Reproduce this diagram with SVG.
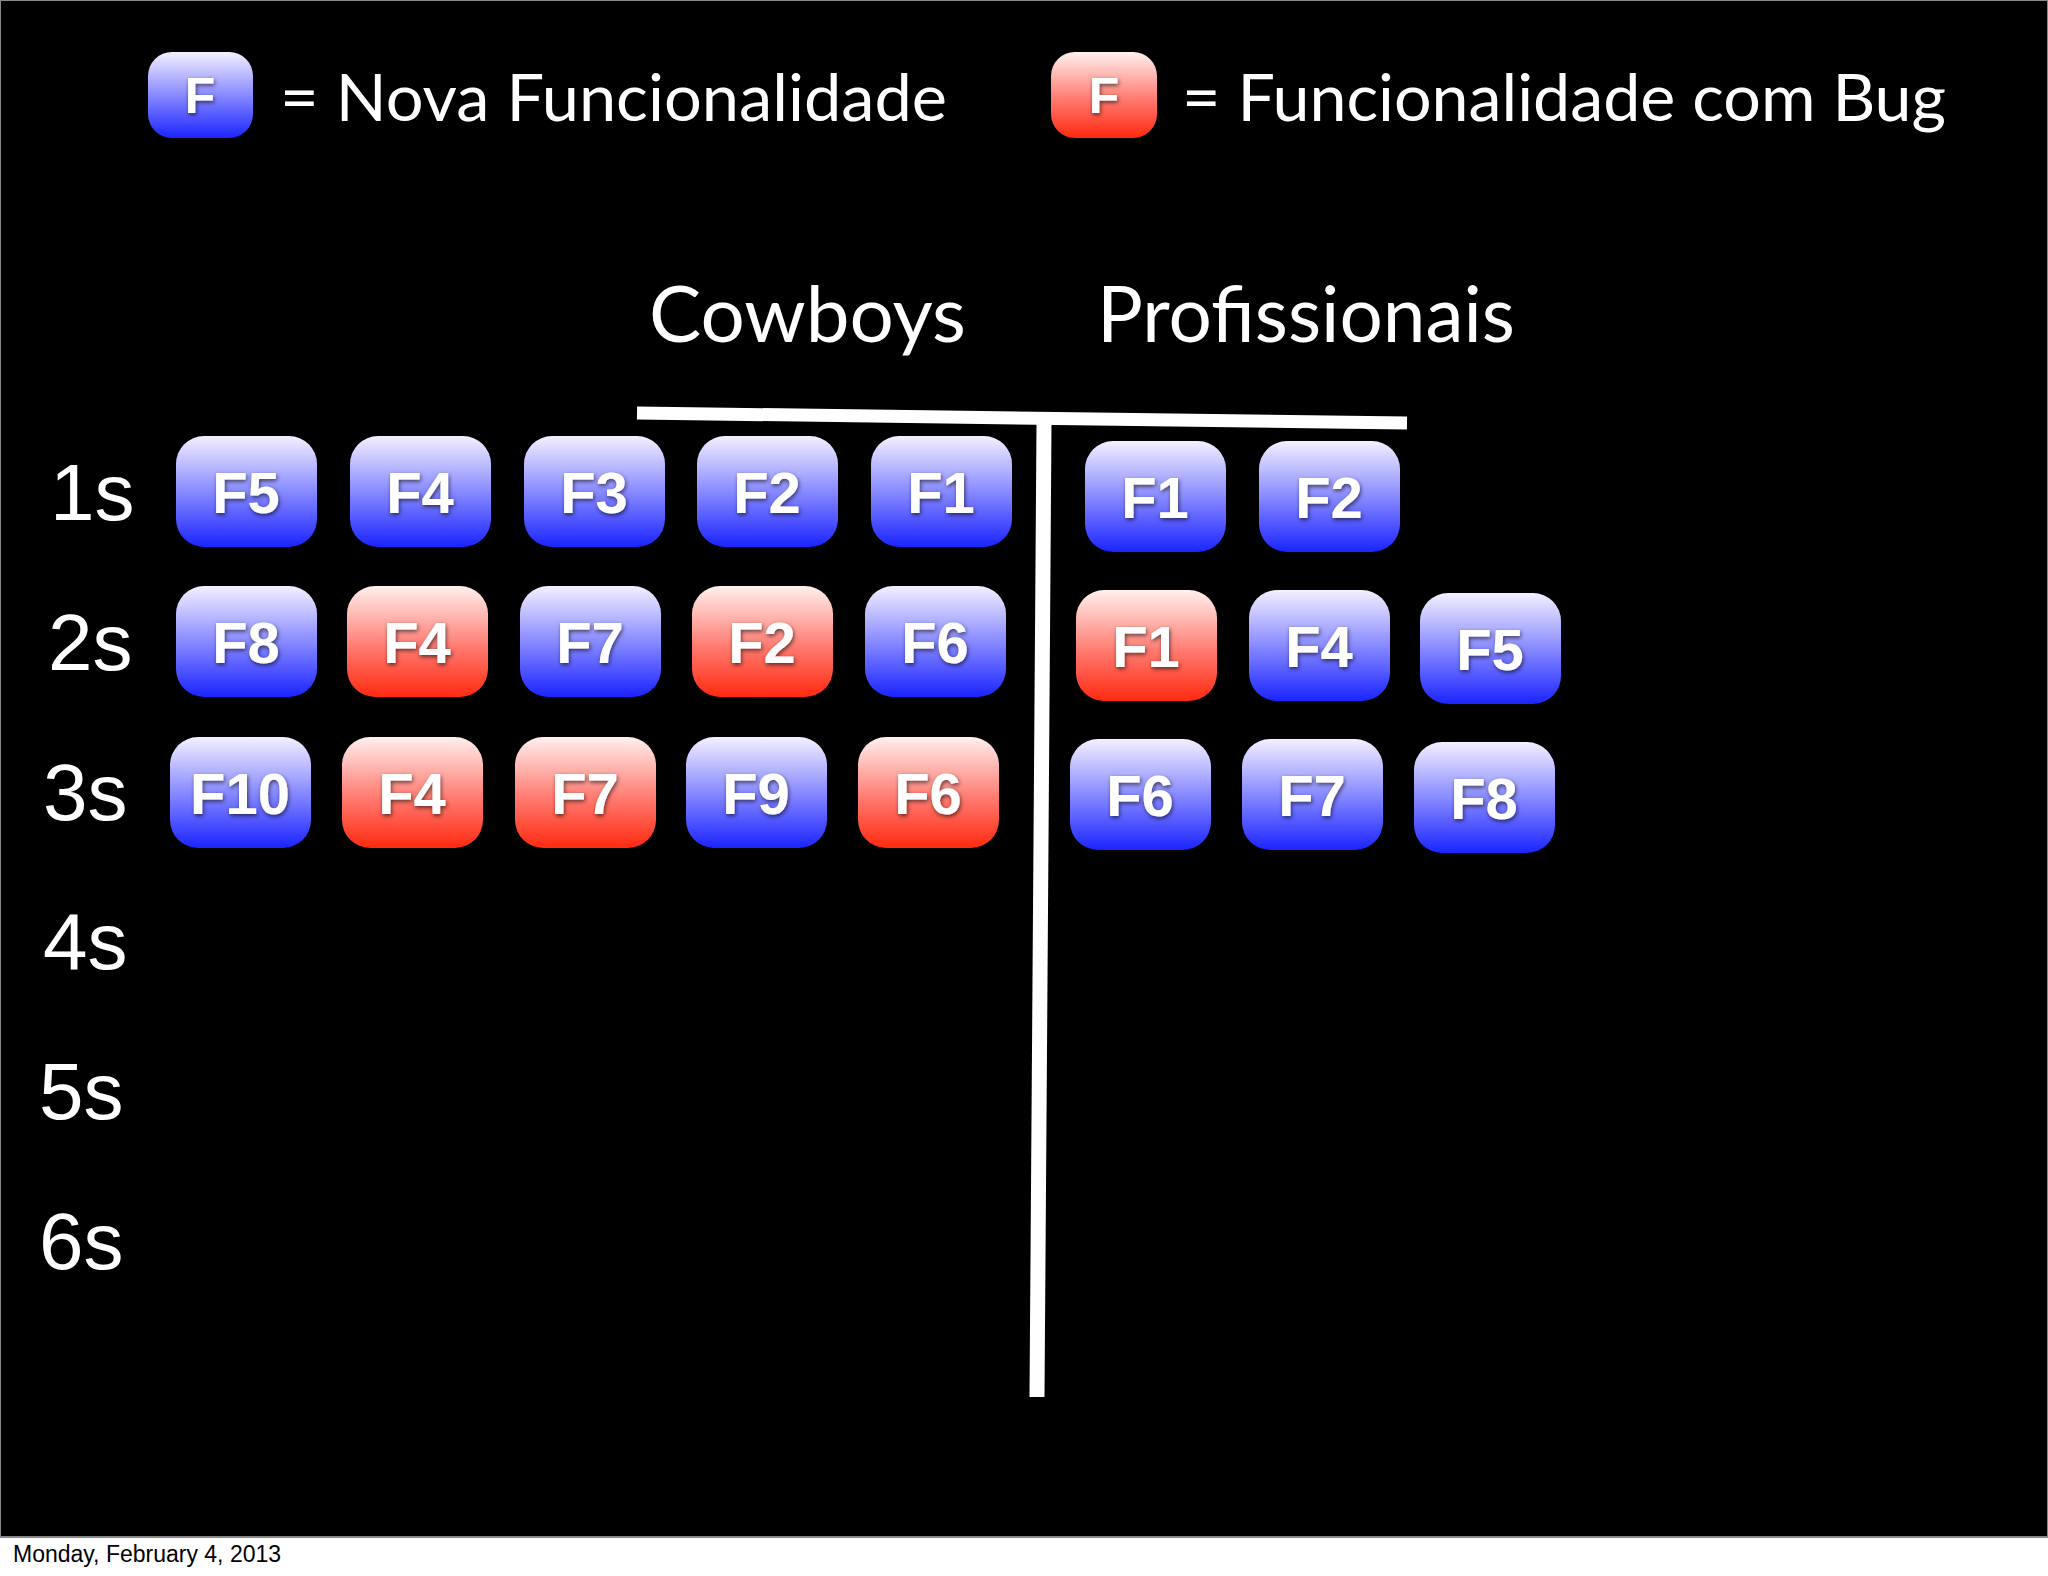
<svg xmlns="http://www.w3.org/2000/svg" width="2048" height="1576" viewBox="0 0 2048 1576">
<defs>
<linearGradient id="gb" x1="0" y1="0" x2="0" y2="1"><stop offset="0" stop-color="#f4f0ff"/><stop offset="0.55" stop-color="#7d80ff"/><stop offset="1" stop-color="#1b24ff"/></linearGradient>
<linearGradient id="gr" x1="0" y1="0" x2="0" y2="1"><stop offset="0" stop-color="#fff0ee"/><stop offset="0.55" stop-color="#ff7a70"/><stop offset="1" stop-color="#ff2a10"/></linearGradient>
<filter id="sh" x="-20%" y="-20%" width="140%" height="140%"><feDropShadow dx="1" dy="2" stdDeviation="2" flood-color="#000" flood-opacity="0.6"/></filter>
</defs>
<style>
.b{fill:url(#gb)}.r{fill:url(#gr)}
.t{font-family:"Liberation Sans",Arial,sans-serif;font-weight:bold;font-size:58px;fill:#fff;text-anchor:middle;filter:url(#sh)}
.row{font-family:"Liberation Sans",Arial,sans-serif;font-size:80px;fill:#fff}
.h{font-family:Lato,"Open Sans",sans-serif;font-size:78px;fill:#fff}
.lg{font-family:Lato,"Open Sans",sans-serif;font-size:66px;fill:#fff}
.lt{font-family:"Liberation Sans",Arial,sans-serif;font-weight:bold;font-size:50px;fill:#fff;text-anchor:middle;filter:url(#sh)}
</style>
<rect width="2048" height="1576" fill="#fff"/>
<rect x="0" y="0" width="2048" height="1537" fill="#000" stroke="#888" stroke-width="2"/>
<text x="13" y="1562" font-family="Liberation Sans,Arial,sans-serif" font-size="23" fill="#000">Monday, February 4, 2013</text>
<g id="legend">
<rect x="148" y="52" width="105" height="86" rx="24" class="b"/><text x="200" y="113" class="lt">F</text>
<text x="280" y="121" class="lg" textLength="667" lengthAdjust="spacingAndGlyphs">= Nova Funcionalidade</text>
<rect x="1051" y="52" width="106" height="86" rx="24" class="r"/><text x="1104" y="113" class="lt">F</text>
<text x="1182" y="121" class="lg" textLength="764" lengthAdjust="spacingAndGlyphs">= Funcionalidade com Bug</text>
</g>
<g id="headers">
<text x="649" y="342" class="h" textLength="317" lengthAdjust="spacingAndGlyphs">Cowboys</text>
<text x="1097" y="342" class="h" textLength="418" lengthAdjust="spacingAndGlyphs">Profissionais</text>
<text x="50" y="520" class="row">1s</text>
<text x="48" y="670" class="row">2s</text>
<text x="43" y="820" class="row">3s</text>
<text x="43" y="969" class="row">4s</text>
<text x="39" y="1119" class="row">5s</text>
<text x="39" y="1269" class="row">6s</text>
</g>
<g id="connectors" stroke="#fff" fill="none">
<line x1="637" y1="413" x2="1407" y2="423" stroke-width="13"/>
<line x1="1044" y1="424" x2="1037" y2="1397" stroke-width="15"/>
</g>
<g id="c1"><rect x="176" y="436" width="141" height="111" rx="28" class="b"/><text x="246" y="513" class="t">F5</text></g>
<g id="c2"><rect x="350" y="436" width="141" height="111" rx="28" class="b"/><text x="420" y="513" class="t">F4</text></g>
<g id="c3"><rect x="524" y="436" width="141" height="111" rx="28" class="b"/><text x="594" y="513" class="t">F3</text></g>
<g id="c4"><rect x="697" y="436" width="141" height="111" rx="28" class="b"/><text x="767" y="513" class="t">F2</text></g>
<g id="c5"><rect x="871" y="436" width="141" height="111" rx="28" class="b"/><text x="941" y="513" class="t">F1</text></g>
<g id="p1"><rect x="1085" y="441" width="141" height="111" rx="28" class="b"/><text x="1155" y="518" class="t">F1</text></g>
<g id="p2"><rect x="1259" y="441" width="141" height="111" rx="28" class="b"/><text x="1329" y="518" class="t">F2</text></g>
<g id="c6"><rect x="176" y="586" width="141" height="111" rx="28" class="b"/><text x="246" y="663" class="t">F8</text></g>
<g id="c7"><rect x="347" y="586" width="141" height="111" rx="28" class="r"/><text x="417" y="663" class="t">F4</text></g>
<g id="c8"><rect x="520" y="586" width="141" height="111" rx="28" class="b"/><text x="590" y="663" class="t">F7</text></g>
<g id="c9"><rect x="692" y="586" width="141" height="111" rx="28" class="r"/><text x="762" y="663" class="t">F2</text></g>
<g id="c10"><rect x="865" y="586" width="141" height="111" rx="28" class="b"/><text x="935" y="663" class="t">F6</text></g>
<g id="p3"><rect x="1076" y="590" width="141" height="111" rx="28" class="r"/><text x="1146" y="667" class="t">F1</text></g>
<g id="p4"><rect x="1249" y="590" width="141" height="111" rx="28" class="b"/><text x="1319" y="667" class="t">F4</text></g>
<g id="p5"><rect x="1420" y="593" width="141" height="111" rx="28" class="b"/><text x="1490" y="670" class="t">F5</text></g>
<g id="c11"><rect x="170" y="737" width="141" height="111" rx="28" class="b"/><text x="240" y="814" class="t">F10</text></g>
<g id="c12"><rect x="342" y="737" width="141" height="111" rx="28" class="r"/><text x="412" y="814" class="t">F4</text></g>
<g id="c13"><rect x="515" y="737" width="141" height="111" rx="28" class="r"/><text x="585" y="814" class="t">F7</text></g>
<g id="c14"><rect x="686" y="737" width="141" height="111" rx="28" class="b"/><text x="756" y="814" class="t">F9</text></g>
<g id="c15"><rect x="858" y="737" width="141" height="111" rx="28" class="r"/><text x="928" y="814" class="t">F6</text></g>
<g id="p6"><rect x="1070" y="739" width="141" height="111" rx="28" class="b"/><text x="1140" y="816" class="t">F6</text></g>
<g id="p7"><rect x="1242" y="739" width="141" height="111" rx="28" class="b"/><text x="1312" y="816" class="t">F7</text></g>
<g id="p8"><rect x="1414" y="742" width="141" height="111" rx="28" class="b"/><text x="1484" y="819" class="t">F8</text></g>
</svg>
